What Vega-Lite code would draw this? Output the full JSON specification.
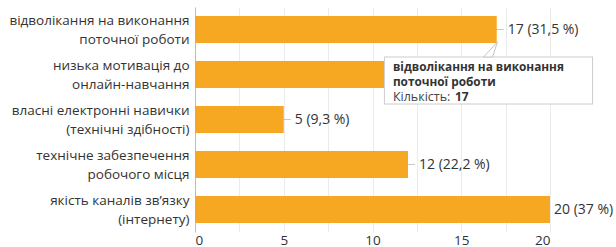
{
  "$schema": "https://vega.github.io/schema/vega-lite/v6.json",
  "width": 355,
  "height": 225,
  "autosize": "none",
  "padding": {"left": 195, "top": 7, "right": 66, "bottom": 15},
  "background": "white",
  "config": {
    "font": "Open Sans",
    "view": {"stroke": null}
  },
  "datasets": {
    "bars": [
      {"cat": "відволікання на виконання|поточної роботи", "value": 17, "label": "17 (31,5 %)", "covered": false},
      {"cat": "низька мотивація до|онлайн-навчання", "value": 15, "label": "15 (27,8 %)", "covered": true},
      {"cat": "власні електронні навички|(технічні здібності)", "value": 5, "label": "5 (9,3 %)", "covered": false},
      {"cat": "технічне забезпечення|робочого місця", "value": 12, "label": "12 (22,2 %)", "covered": false},
      {"cat": "якість каналів зв’язку|(інтернету)", "value": 20, "label": "20 (37 %)", "covered": false}
    ],
    "tip": [
      {"cat": "низька мотивація до|онлайн-навчання", "x1": 10.7, "x2": 22.37, "bx1": 10.645, "bx2": 22.425, "px": 16.62, "title": "відволікання на виконання|поточної роботи", "k": "Кількість:", "n": "17"}
    ]
  },
  "encoding": {
    "y": {
      "field": "cat",
      "type": "nominal",
      "sort": null,
      "scale": {
        "domain": [
          "відволікання на виконання|поточної роботи",
          "низька мотивація до|онлайн-навчання",
          "власні електронні навички|(технічні здібності)",
          "технічне забезпечення|робочого місця",
          "якість каналів зв’язку|(інтернету)"
        ],
        "paddingInner": 0.4,
        "paddingOuter": 0.2
      },
      "axis": {
        "title": null,
        "ticks": false,
        "domain": true,
        "domainColor": "#bdbdbd",
        "labelExpr": "split(datum.label, '|')",
        "labelFontSize": 13.5,
        "labelColor": "#333333",
        "labelPadding": 6,
        "labelLineHeight": 19,
        "labelOffset": -9,
        "labelLimit": 400
      }
    }
  },
  "layer": [
    {
      "data": {"name": "bars"},
      "transform": [{"filter": "datum.value < 20 && !datum.covered"}],
      "mark": {"type": "tick", "orient": "horizontal", "size": 14, "thickness": 1, "color": "#b0b0b0"},
      "encoding": {
        "x": {
          "field": "value",
          "type": "quantitative",
          "scale": {"domain": [0, 20], "nice": false},
          "axis": {
            "title": null,
            "values": [0, 2.5, 5, 7.5, 10, 12.5, 15, 17.5, 20],
            "labelExpr": "datum.value % 5 === 0 ? datum.label : ''",
            "ticks": false,
            "domain": false,
            "gridColor": "#ebebeb",
            "labelFontSize": 13.5,
            "labelColor": "#333333",
            "labelPadding": 1
          }
        }
      }
    },
    {
      "data": {"name": "bars"},
      "mark": {"type": "bar", "color": "#F7A823"},
      "encoding": {
        "x": {"field": "value", "type": "quantitative"}
      }
    },
    {
      "data": {"name": "bars"},
      "transform": [{"filter": "datum.value < 20 && !datum.covered"}],
      "mark": {"type": "text", "align": "left", "baseline": "middle", "dx": 11, "fontSize": 14, "color": "#333333"},
      "encoding": {
        "x": {"field": "value", "type": "quantitative"},
        "text": {"field": "label"}
      }
    },
    {
      "data": {"name": "bars"},
      "transform": [{"filter": "datum.value >= 20"}],
      "mark": {"type": "text", "align": "left", "baseline": "middle", "dx": 4, "fontSize": 14, "color": "#333333"},
      "encoding": {
        "x": {"field": "value", "type": "quantitative"},
        "text": {"field": "label"}
      }
    },
    {
      "data": {"name": "tip"},
      "mark": {"type": "rule", "strokeWidth": 48, "color": "#cccccc", "yOffset": 6, "strokeCap": "butt"},
      "encoding": {
        "x": {"field": "bx1", "type": "quantitative"},
        "x2": {"field": "bx2"}
      }
    },
    {
      "data": {"name": "tip"},
      "mark": {"type": "rule", "strokeWidth": 46, "color": "white", "yOffset": 6, "strokeCap": "butt"},
      "encoding": {
        "x": {"field": "x1", "type": "quantitative"},
        "x2": {"field": "x2"}
      }
    },
    {
      "data": {"name": "tip"},
      "mark": {"type": "point", "shape": "M -0.87 1 L 1 -1 L 0.33 1 Z", "size": 225, "filled": false, "fill": "white", "fillOpacity": 1, "stroke": "#c4c4c4", "strokeOpacity": 1, "strokeWidth": 1, "opacity": 1, "yOffset": -25},
      "encoding": {
        "x": {"field": "px", "type": "quantitative"}
      }
    },
    {
      "data": {"name": "tip"},
      "mark": {"type": "text", "align": "left", "baseline": "middle", "dx": 8, "yOffset": -7.5, "fontSize": 11.8, "fontWeight": "bold", "lineBreak": "|", "lineHeight": 14.5, "color": "#333333"},
      "encoding": {
        "x": {"field": "x1", "type": "quantitative"},
        "text": {"field": "title"}
      }
    },
    {
      "data": {"name": "tip"},
      "mark": {"type": "text", "align": "left", "baseline": "middle", "dx": 8, "yOffset": 22, "fontSize": 12.5, "color": "#444444"},
      "encoding": {
        "x": {"field": "x1", "type": "quantitative"},
        "text": {"field": "k"}
      }
    },
    {
      "data": {"name": "tip"},
      "mark": {"type": "text", "align": "left", "baseline": "middle", "dx": 70, "yOffset": 22, "fontSize": 12, "fontWeight": "bold", "color": "#333333"},
      "encoding": {
        "x": {"field": "x1", "type": "quantitative"},
        "text": {"field": "n"}
      }
    }
  ]
}
